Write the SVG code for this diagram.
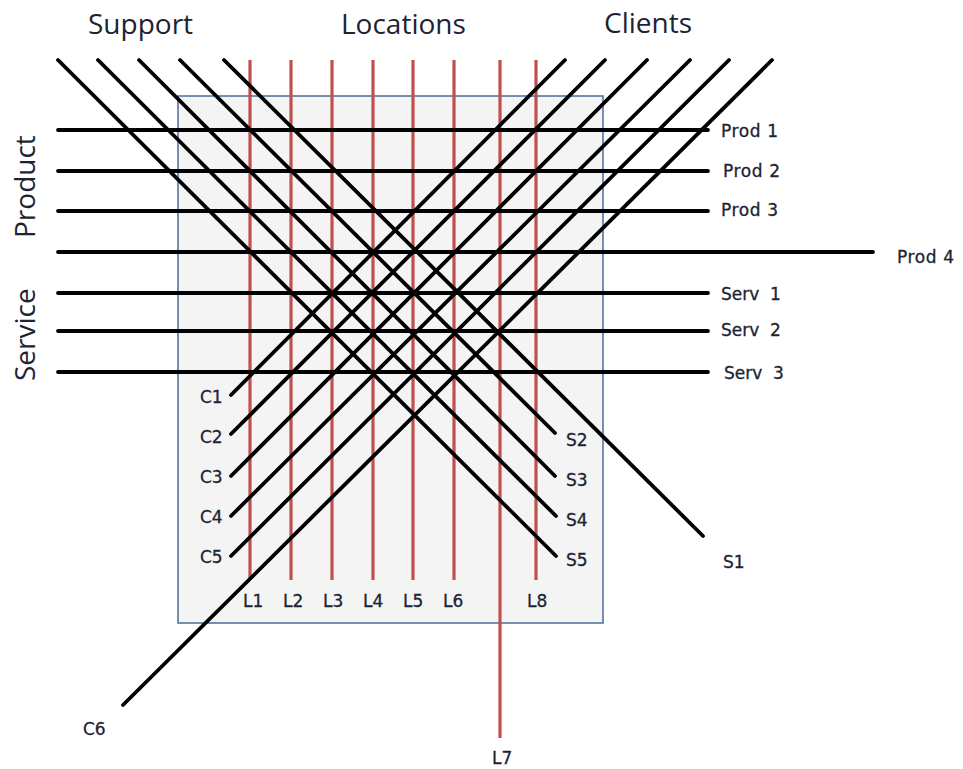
<svg xmlns="http://www.w3.org/2000/svg" width="963" height="769" viewBox="0 0 963 769">
<style>
.box{fill:#f4f4f4;stroke:#4a6b9a;stroke-width:1.5}
.blk{stroke:#000;stroke-width:3.8;stroke-linecap:round;fill:none}
.red{stroke:#c0504d;stroke-width:3.2;fill:none}
.lbl{font-family:"DejaVu Sans",sans-serif;font-size:17px;fill:#1c2333;stroke:#1c2333;stroke-width:0.3}
.wide{letter-spacing:0.6px}
.hdr{font-family:"Open Sans",sans-serif;font-size:28px;fill:#1c2333}
</style>
<rect width="963" height="769" fill="#fff"/>
<g id="frame"><rect class="box" x="178" y="96" width="425" height="527"/></g>
<g id="headers">
<text class="hdr" x="88" y="34">Support</text>
<text class="hdr" x="341" y="34">Locations</text>
<text class="hdr" x="604" y="33">Clients</text>
<text class="hdr" transform="translate(35,238) rotate(-90)">Product</text>
<text class="hdr" transform="translate(35,381) rotate(-90)">Service</text>
</g>
<g id="connectors">
<g id="locations">
<g id="L1"><line class="red" x1="250" y1="60" x2="250" y2="580"/><text class="lbl" x="243" y="607">L1</text></g>
<g id="L2"><line class="red" x1="291" y1="60" x2="291" y2="580"/><text class="lbl" x="283" y="607">L2</text></g>
<g id="L3"><line class="red" x1="332" y1="60" x2="332" y2="580"/><text class="lbl" x="323" y="607">L3</text></g>
<g id="L4"><line class="red" x1="373" y1="60" x2="373" y2="580"/><text class="lbl" x="363" y="607">L4</text></g>
<g id="L5"><line class="red" x1="413" y1="60" x2="413" y2="580"/><text class="lbl" x="403" y="607">L5</text></g>
<g id="L6"><line class="red" x1="454" y1="60" x2="454" y2="580"/><text class="lbl" x="443" y="607">L6</text></g>
<g id="L7"><line class="red" x1="500" y1="60" x2="500" y2="738"/><text class="lbl" x="492" y="764">L7</text></g>
<g id="L8"><line class="red" x1="536" y1="60" x2="536" y2="580"/><text class="lbl" x="527" y="607">L8</text></g>
</g>
<g id="products">
<g id="Prod1"><line class="blk" x1="58" y1="130" x2="708" y2="130"/><text class="lbl wide" x="721" y="137">Prod 1</text></g>
<g id="Prod2"><line class="blk" x1="58" y1="171" x2="708" y2="171"/><text class="lbl wide" x="723" y="177">Prod 2</text></g>
<g id="Prod3"><line class="blk" x1="58" y1="211" x2="708" y2="211"/><text class="lbl wide" x="721" y="216">Prod 3</text></g>
<g id="Prod4"><line class="blk" x1="58" y1="252" x2="873" y2="252"/><text class="lbl wide" x="897" y="263">Prod 4</text></g>
<g id="Serv1"><line class="blk" x1="58" y1="293" x2="708" y2="293"/><text class="lbl" x="721" y="300" xml:space="preserve">Serv  1</text></g>
<g id="Serv2"><line class="blk" x1="58" y1="331" x2="708" y2="331"/><text class="lbl" x="721" y="336" xml:space="preserve">Serv  2</text></g>
<g id="Serv3"><line class="blk" x1="58" y1="372" x2="708" y2="372"/><text class="lbl" x="724" y="379" xml:space="preserve">Serv  3</text></g>
</g>
<g id="support">
<g id="S1"><line class="blk" x1="224" y1="60" x2="703" y2="536"/><text class="lbl" x="723" y="568">S1</text></g>
<g id="S2"><line class="blk" x1="180" y1="60" x2="555" y2="433"/><text class="lbl" x="566" y="446">S2</text></g>
<g id="S3"><line class="blk" x1="139" y1="60" x2="555" y2="476"/><text class="lbl" x="566" y="486">S3</text></g>
<g id="S4"><line class="blk" x1="98" y1="60" x2="556" y2="516"/><text class="lbl" x="566" y="526">S4</text></g>
<g id="S5"><line class="blk" x1="58" y1="60" x2="556" y2="556"/><text class="lbl" x="566" y="566">S5</text></g>
</g>
<g id="clients">
<g id="C1"><line class="blk" x1="565" y1="60" x2="231" y2="395"/><text class="lbl" x="200" y="403">C1</text></g>
<g id="C2"><line class="blk" x1="605" y1="60" x2="231" y2="434"/><text class="lbl" x="200" y="443">C2</text></g>
<g id="C3"><line class="blk" x1="647" y1="60" x2="231" y2="476"/><text class="lbl" x="200" y="483">C3</text></g>
<g id="C4"><line class="blk" x1="690" y1="60" x2="231" y2="516"/><text class="lbl" x="200" y="523">C4</text></g>
<g id="C5"><line class="blk" x1="729" y1="60" x2="231" y2="556"/><text class="lbl" x="200" y="563">C5</text></g>
<g id="C6"><line class="blk" x1="772" y1="60" x2="123" y2="705"/><text class="lbl" x="83" y="735">C6</text></g>
</g>
</g>
</svg>
